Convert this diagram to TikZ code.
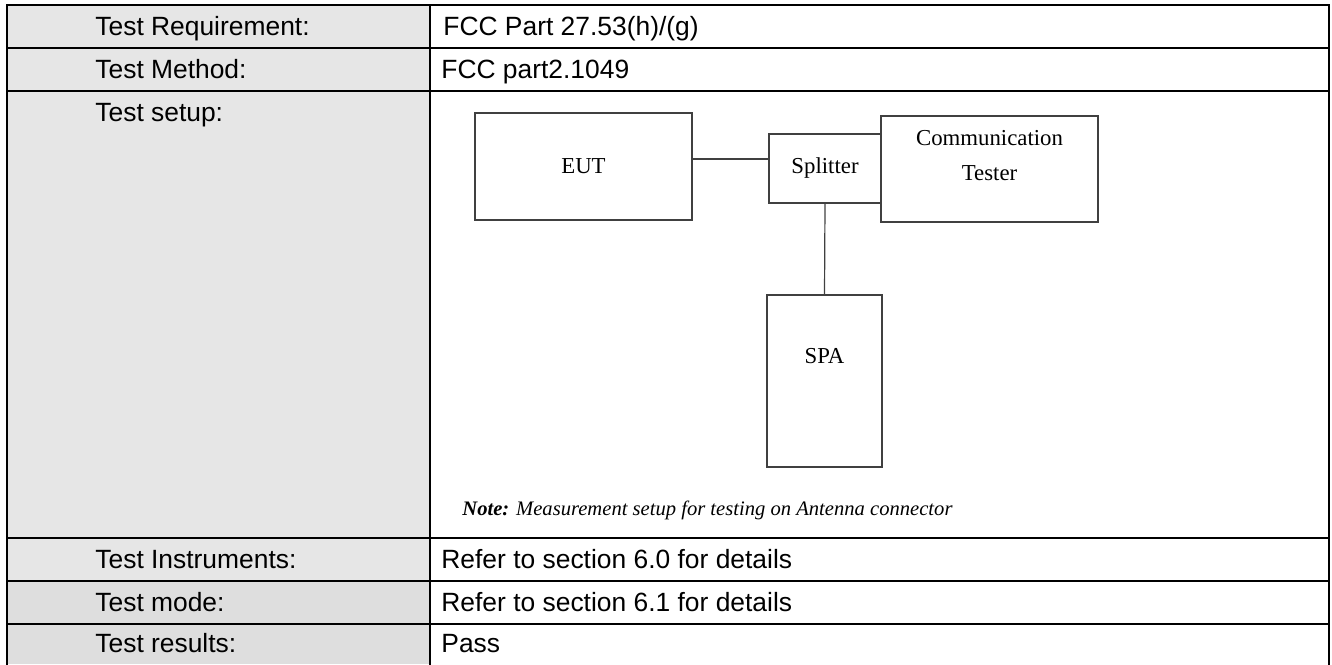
\documentclass[tikz,border=0pt]{standalone}
\usepackage{fontspec}
\setmainfont{Liberation Sans}
\newfontfamily\devfont{Liberation Serif}
\usetikzlibrary{positioning}
\usepackage{xcolor}
\definecolor{headgray}{HTML}{E6E6E6}
\definecolor{headgraydk}{HTML}{DEDEDE}
\definecolor{boxline}{HTML}{404040}

\begin{document}
\begin{tikzpicture}[x=0.5pt,y=-0.5pt]

		\tikzset{cell/.style = {anchor=base west,inner sep=0pt,font=\fontsize{13.2}{16}\selectfont}}
		\tikzset{device/.style = {shape=rectangle,draw=boxline,line width=0.6pt,fill=white,inner sep=0pt,font=\devfont\fontsize{11.4}{17.5}\selectfont}}
		\tikzset{devtext/.style = {inner sep=0pt,align=center,font=\devfont\fontsize{11.4}{17.5}\selectfont}}
		\tikzset{grid/.style = {line width=1pt,line cap=rect}}
		\tikzset{link/.style = {draw=boxline,line width=0.6pt}}
		\useasboundingbox (0,0) rectangle (1332,664);
		%label column
		\fill[headgray] (7,5) rectangle (430,581);
		\fill[headgraydk] (7,581) rectangle (430,664);
		%table lines
		\foreach \y in {5,48,91,538,581,624} \draw[grid] (7,\y) -- (1329,\y);
		\foreach \x in {7,430,1329} \draw[grid] (\x,5) -- (\x,664);
		%cells
		\node[cell] (req) at (95,35) {Test Requirement:};
		\node[cell] (reqval) at (443,35) {FCC Part 27.53(h)/(g)};
		\node[cell] (meth) at (95,78) {Test Method:};
		\node[cell] (methval) at (441,78) {FCC part2.1049};
		\node[cell] (setup) at (95,121) {Test setup:};
		\node[cell] (instr) at (95,568) {Test Instruments:};
		\node[cell] (instrval) at (441,568) {Refer to section 6.0 for details};
		\node[cell] (mode) at (95,611) {Test mode:};
		\node[cell] (modeval) at (441,611) {Refer to section 6.1 for details};
		\node[cell] (res) at (95,652) {Test results:};
		\node[cell] (resval) at (441,652) {Pass};
		%setup diagram
		\node[device,minimum width=108.5pt,minimum height=53.5pt] (eut) at (583.5,166.5) {EUT};
		\node[device,minimum width=56pt,minimum height=34.5pt] (splitter) at (825,168.5) {Splitter};
		\node[device,minimum width=108.5pt,minimum height=53pt] (tester) at (989.5,169) {};
		\node[devtext] (testerlbl) at ([yshift=6.75pt]tester.center) {Communication\\Tester};
		\node[device,minimum width=57.5pt,minimum height=86pt] (spa) at (824.5,381) {};
		\node[devtext] (spalbl) at ([yshift=12.5pt]spa.center) {SPA};
		%links
		\coordinate (eutport) at ([yshift=3.75pt]eut.east);
		\draw[link] (eutport) -- (eutport -| splitter.west);
		\draw[link] (splitter.south) -- (spa.north);
		\node[anchor=base west,inner sep=0pt,font=\devfont\itshape\fontsize{10.3}{12}\selectfont] (note) at (462,515) {\textbf{Note:} Measurement setup for testing on Antenna connector};
		\end{tikzpicture}
\end{document}
